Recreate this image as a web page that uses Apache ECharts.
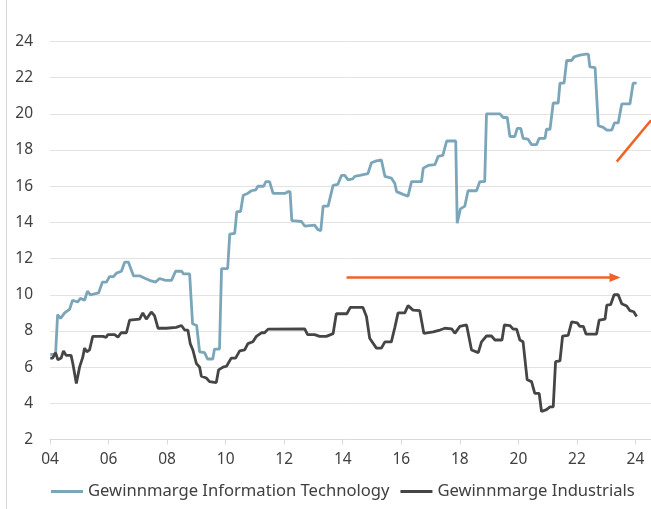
<!DOCTYPE html>
<html>
<head>
<meta charset="utf-8">
<script src="https://cdn.jsdelivr.net/npm/echarts@6/dist/echarts.min.js"></script>
<style>
  html, body { margin: 0; padding: 0; background: #fff; }
  #chart { width: 651px; height: 509px; }
</style>
</head>
<body>
<div id="chart"></div>
<script>
// Gewinnmarge IT (Jahr als Dezimalzahl, Wert in %)
const itYears = [
  2004.01, 2004.19, 2004.26, 2004.36, 2004.5, 2004.67, 2004.77, 2004.94, 2005.04, 2005.18,
  2005.28, 2005.38, 2005.66, 2005.79, 2005.93, 2006.03, 2006.17, 2006.27, 2006.44, 2006.55,
  2006.68, 2006.85, 2007.06, 2007.26, 2007.4, 2007.61, 2007.74, 2007.95, 2008.15, 2008.29,
  2008.5, 2008.56, 2008.77, 2008.87, 2009.01, 2009.11, 2009.28, 2009.38, 2009.56, 2009.62,
  2009.79, 2009.86, 2010.07, 2010.14, 2010.31, 2010.38, 2010.51, 2010.6, 2010.75, 2010.88,
  2011.03, 2011.1, 2011.3, 2011.37, 2011.5, 2011.62, 2012.02, 2012.13, 2012.2, 2012.26,
  2012.59, 2012.7, 2013.04, 2013.15, 2013.25, 2013.33, 2013.5, 2013.67, 2013.83, 2013.96,
  2014.07, 2014.18, 2014.34, 2014.41, 2014.58, 2014.86, 2014.98, 2015.15, 2015.32, 2015.44,
  2015.66, 2015.78, 2015.84, 2016.06, 2016.23, 2016.35, 2016.69, 2016.75, 2016.92, 2017.15,
  2017.26, 2017.42, 2017.55, 2017.86, 2017.91, 2018.02, 2018.17, 2018.28, 2018.57, 2018.68,
  2018.85, 2018.91, 2019.37, 2019.48, 2019.62, 2019.71, 2019.88, 2019.96, 2020.08, 2020.16,
  2020.33, 2020.45, 2020.62, 2020.71, 2020.91, 2020.96, 2021.08, 2021.19, 2021.36, 2021.42,
  2021.56, 2021.65, 2021.82, 2021.9, 2022.1, 2022.31, 2022.39, 2022.44, 2022.62, 2022.73,
  2022.9, 2023.02, 2023.19, 2023.28, 2023.41, 2023.53, 2023.81, 2023.92, 2024.04
];
const itValues = [
  6.7, 6.7, 8.9, 8.7, 9.0, 9.2, 9.7, 9.6, 9.8, 9.7,
  10.2, 10.0, 10.1, 10.7, 10.7, 11.0, 11.0, 11.2, 11.3, 11.8,
  11.8, 11.05, 11.05, 10.9, 10.8, 10.7, 10.9, 10.8, 10.8, 11.3,
  11.3, 11.15, 11.15, 8.4, 8.3, 6.85, 6.8, 6.45, 6.45, 7.0,
  7.0, 11.45, 11.45, 13.35, 13.4, 14.6, 14.6, 15.5, 15.6, 15.75,
  15.8, 16.0, 16.0, 16.25, 16.25, 15.6, 15.6, 15.7, 15.7, 14.1,
  14.05, 13.8, 13.85, 13.6, 13.55, 14.9, 14.9, 16.05, 16.1, 16.6,
  16.6, 16.35, 16.4, 16.55, 16.6, 16.7, 17.3, 17.4, 17.45, 16.55,
  16.45, 16.15, 15.7, 15.55, 15.45, 16.25, 16.25, 17.0, 17.15, 17.2,
  17.65, 17.7, 18.5, 18.5, 13.95, 14.75, 14.9, 15.75, 15.75, 16.25,
  16.25, 20.0, 20.0, 19.8, 19.8, 18.75, 18.75, 19.2, 19.2, 18.65,
  18.6, 18.3, 18.3, 18.65, 18.65, 19.15, 19.15, 20.6, 20.6, 21.7,
  21.7, 22.95, 22.95, 23.15, 23.25, 23.3, 23.3, 22.6, 22.55, 19.35,
  19.25, 19.1, 19.1, 19.5, 19.5, 20.55, 20.55, 21.7, 21.7
];

// Gewinnmarge Industrials
const indYears = [
  2004.01, 2004.09, 2004.19, 2004.27, 2004.38, 2004.46, 2004.55, 2004.72, 2004.78, 2004.9,
  2005.01, 2005.12, 2005.18, 2005.26, 2005.35, 2005.46, 2005.81, 2005.92, 2005.98, 2006.21,
  2006.32, 2006.43, 2006.61, 2006.72, 2007.06, 2007.17, 2007.29, 2007.46, 2007.57, 2007.69,
  2007.97, 2008.03, 2008.31, 2008.37, 2008.49, 2008.6, 2008.71, 2008.79, 2008.88, 2009.0,
  2009.11, 2009.17, 2009.34, 2009.45, 2009.68, 2009.76, 2009.91, 2010.03, 2010.19, 2010.34,
  2010.48, 2010.65, 2010.76, 2010.93, 2011.05, 2011.22, 2011.33, 2011.45, 2012.7, 2012.8,
  2013.04, 2013.21, 2013.44, 2013.67, 2013.78, 2014.14, 2014.26, 2014.69, 2014.81, 2014.92,
  2015.15, 2015.32, 2015.44, 2015.66, 2015.78, 2015.89, 2016.12, 2016.23, 2016.4, 2016.63,
  2016.77, 2017.09, 2017.32, 2017.49, 2017.72, 2017.83, 2018.0, 2018.23, 2018.4, 2018.63,
  2018.74, 2018.91, 2019.08, 2019.2, 2019.44, 2019.52, 2019.71, 2019.82, 2019.94, 2020.05,
  2020.16, 2020.3, 2020.45, 2020.56, 2020.71, 2020.79, 2020.96, 2021.08, 2021.19, 2021.27,
  2021.42, 2021.51, 2021.7, 2021.82, 2022.01, 2022.1, 2022.22, 2022.31, 2022.67, 2022.76,
  2022.96, 2023.02, 2023.15, 2023.27, 2023.41, 2023.53, 2023.7, 2023.81, 2023.94, 2024.04
];
const indValues = [
  6.5, 6.5, 6.8, 6.4, 6.5, 6.9, 6.65, 6.65, 6.2, 5.1,
  6.0, 6.55, 7.05, 6.85, 6.95, 7.7, 7.7, 7.65, 7.8, 7.8,
  7.65, 7.9, 7.9, 8.6, 8.65, 9.0, 8.65, 9.05, 8.85, 8.15,
  8.15, 8.2, 8.2, 8.3, 8.3, 8.05, 8.05, 7.3, 6.95, 6.2,
  6.0, 5.5, 5.4, 5.2, 5.15, 5.85, 6.0, 6.05, 6.5, 6.5,
  6.9, 6.95, 7.3, 7.4, 7.7, 7.9, 7.9, 8.1, 8.12, 7.8,
  7.8, 7.7, 7.7, 7.85, 8.95, 8.95, 9.3, 9.3, 8.8, 7.6,
  7.05, 7.05, 7.4, 7.4, 8.2, 9.0, 9.0, 9.4, 9.15, 9.12,
  7.87, 7.95, 8.05, 8.15, 8.12, 7.87, 8.25, 8.33, 6.95, 6.8,
  7.4, 7.72, 7.72, 7.5, 7.5, 8.33, 8.3, 8.1, 8.1, 7.5,
  7.4, 5.3, 5.2, 4.55, 4.55, 3.55, 3.65, 3.8, 3.8, 6.3,
  6.35, 7.72, 7.75, 8.5, 8.45, 8.25, 8.25, 7.83, 7.83, 8.6,
  8.65, 9.43, 9.45, 10.0, 10.0, 9.5, 9.38, 9.12, 9.06, 8.8
];

// orange Pfeile: [Startjahr, Startwert], [Endjahr, Endwert]
const flatArrow = [[2014.13, 10.95], [2023.3, 10.95]];
const upArrow = [[2023.36, 17.36], [2024.53, 19.65]];

const yTicks = { min: 2, max: 24, step: 2 };
const xRange = { min: 2004, max: 2024.53, step: 2 };

const seriesNames = ['Gewinnmarge Information Technology', 'Gewinnmarge Industrials'];

const zip = (xs, ys) => xs.map((x, i) => [x, ys[i]]);

const chart = echarts.init(document.getElementById('chart'));
chart.setOption({
  animation: false,
  textStyle: { fontFamily: 'Noto Sans' },
  grid: { left: 50, right: 0, top: 41.5, bottom: 69.5 },
  legend: {
    bottom: 4,
    left: 46,
    itemWidth: 32,
    itemHeight: 3,
    itemGap: 11,
    icon: 'rect',
    textStyle: { fontSize: 16.6, color: '#404040', padding: [0, 0, 0, 0] },
    data: seriesNames
  },
  xAxis: {
    type: 'value',
    min: xRange.min,
    max: xRange.max,
    interval: xRange.step,
    splitLine: { show: false },
    axisLine: { lineStyle: { color: '#d9d9d9' } },
    axisTick: { show: true, length: 5, lineStyle: { color: '#d9d9d9' } },
    axisLabel: {
      fontSize: 15.5,
      color: '#404040',
      margin: 12,
      showMaxLabel: false,
      formatter: v => (Number.isInteger(v) && v % 2 === 0) ? String(v).slice(2) : ''
    }
  },
  yAxis: {
    type: 'value',
    min: yTicks.min,
    max: yTicks.max,
    interval: yTicks.step,
    axisLine: { show: false },
    axisTick: { show: false },
    splitLine: { lineStyle: { color: '#e3e3e3', width: 1 } },
    axisLabel: { fontSize: 15.5, color: '#404040', margin: 17 }
  },
  graphic: [{
    type: 'line',
    shape: { x1: 6.5, y1: 0, x2: 6.5, y2: 509 },
    style: { stroke: '#d6d6d6', lineWidth: 1 }
  }],
  series: [
    {
      name: seriesNames[0],
      type: 'line',
      showSymbol: false,
      color: '#7ba6ba',
      lineStyle: { width: 2.8, color: '#7ba6ba' },
      data: zip(itYears, itValues),
      z: 3
    },
    {
      name: seriesNames[1],
      type: 'line',
      showSymbol: false,
      color: '#454545',
      lineStyle: { width: 2.8, color: '#454545' },
      data: zip(indYears, indValues),
      z: 3,
      markLine: {
        silent: true,
        symbol: ['none', 'triangle'],
        symbolSize: [9, 11],
        label: { show: false },
        lineStyle: { color: '#ee6326', width: 2.5, type: 'solid' },
        data: [
          [{ coord: flatArrow[0] }, { coord: flatArrow[1] }],
          [{ coord: upArrow[0], symbol: 'none' }, { coord: upArrow[1], symbol: 'none' }]
        ]
      }
    }
  ]
});
</script>
</body>
</html>
